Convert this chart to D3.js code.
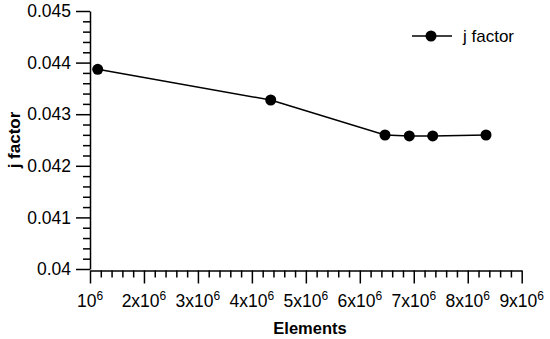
<!DOCTYPE html>
<html>
<head>
<meta charset="utf-8">
<script src="https://cdn.jsdelivr.net/npm/d3@7"></script>
<style>
  body { margin: 0; background: #fff; }
  svg { display: block; font-family: "Liberation Sans", Arial, sans-serif; }
</style>
</head>
<body>
<div class="canvas"></div>
<script>
// data
const elements = [1.143e6, 4.349e6, 6.467e6, 6.917e6, 7.351e6, 8.339e6];
const jFactor = [0.04387, 0.043275, 0.042597, 0.042578, 0.042578, 0.042597];
const seriesName = "j factor";

const yTicks = [0.04, 0.041, 0.042, 0.043, 0.044, 0.045];
const yTickLabels = ["0.04", "0.041", "0.042", "0.043", "0.044", "0.045"];
const xTicks = [1e6, 2e6, 3e6, 4e6, 5e6, 6e6, 7e6, 8e6, 9e6];
const xTickLabels = [["10", "6"], ["2x10", "6"], ["3x10", "6"], ["4x10", "6"], ["5x10", "6"],
  ["6x10", "6"], ["7x10", "6"], ["8x10", "6"], ["9x10", "6"]];

const data = elements.map((e, i) => ({ elements: e, j: jFactor[i] }));

const width = 550;
const height = 339;

const svg = d3
  .select(".canvas")
  .append("svg")
  .attr("width", width)
  .attr("height", height);

//scales
const x = d3.scaleLinear().domain([1e6, 9e6]).range([90, 521.7]);
const y = d3.scaleLinear().domain([0.04, 0.045]).range([269, 11]);

//minor tick values
const yMinor = d3.range(0, 26).map(i => 0.04 + i * 0.0002).filter((v, i) => i % 5 != 0);
const xMinor = d3.range(0, 41).map(i => 1e6 + i * 0.2e6).filter((v, i) => i % 5 != 0);

//y axis
const yAxisGroup = svg.append("g").attr("transform", "translate(90, 0)");
yAxisGroup.call(
  d3.axisLeft(y)
    .tickValues(yTicks)
    .tickSize(14)
    .tickSizeOuter(0)
    .tickPadding(5)
    .tickFormat((d, i) => yTickLabels[i])
);
yAxisGroup.append("g").call(
  d3.axisLeft(y).tickValues(yMinor).tickSize(7).tickFormat("")
).select(".domain").remove();

//x axis
const xAxisGroup = svg.append("g").attr("transform", "translate(0, 270.5)");
xAxisGroup.call(
  d3.axisBottom(x)
    .tickValues(xTicks)
    .tickSize(13)
    .tickSizeOuter(0)
    .tickPadding(6)
    .tickFormat("")
);
xAxisGroup.append("g").call(
  d3.axisBottom(x).tickValues(xMinor).tickSize(7).tickFormat("")
).select(".domain").remove();

//x tick labels with superscript
xAxisGroup
  .selectAll(".xlabel")
  .data(xTicks)
  .enter()
  .append("text")
  .attr("class", "xlabel")
  .attr("x", d => x(d))
  .attr("y", 36)
  .attr("text-anchor", "middle")
  .attr("fill", "#000")
  .style("font-size", "17.5px")
  .each(function(d, i) {
    const t = d3.select(this);
    t.append("tspan").text(xTickLabels[i][0]);
    t.append("tspan")
      .attr("dy", -7)
      .style("font-size", "12px")
      .text(xTickLabels[i][1]);
  });

svg.selectAll(".domain, .tick line").attr("stroke", "#000").attr("stroke-width", 1.5);
yAxisGroup.selectAll(".tick text").style("font-size", "17.5px").attr("fill", "#000");

//axis titles
svg.append("text")
  .attr("x", 310)
  .attr("y", 334)
  .attr("text-anchor", "middle")
  .style("font-size", "16.5px")
  .style("font-weight", "bold")
  .text("Elements");

svg.append("text")
  .attr("transform", "translate(20, 140) rotate(-90)")
  .attr("text-anchor", "middle")
  .style("font-size", "17px")
  .style("font-weight", "bold")
  .text("j factor");

//line
const line = d3.line().x(d => x(d.elements)).y(d => y(d.j));

svg.append("path")
  .datum(data)
  .attr("fill", "none")
  .attr("stroke", "#000")
  .attr("stroke-width", 1.5)
  .attr("d", line);

svg.selectAll("circle.pt")
  .data(data)
  .enter()
  .append("circle")
  .attr("class", "pt")
  .attr("cx", d => x(d.elements))
  .attr("cy", d => y(d.j))
  .attr("r", 5.5)
  .attr("fill", "#000");

//legend
const legend = svg.append("g").attr("transform", "translate(412, 36)");
legend.append("line")
  .attr("x1", 0).attr("x2", 40)
  .attr("stroke", "#000").attr("stroke-width", 1.5);
legend.append("circle").attr("cx", 19).attr("r", 5.5).attr("fill", "#000");
legend.append("text")
  .attr("x", 51)
  .attr("y", 6)
  .style("font-size", "17px")
  .text(seriesName);
</script>
</body>
</html>
